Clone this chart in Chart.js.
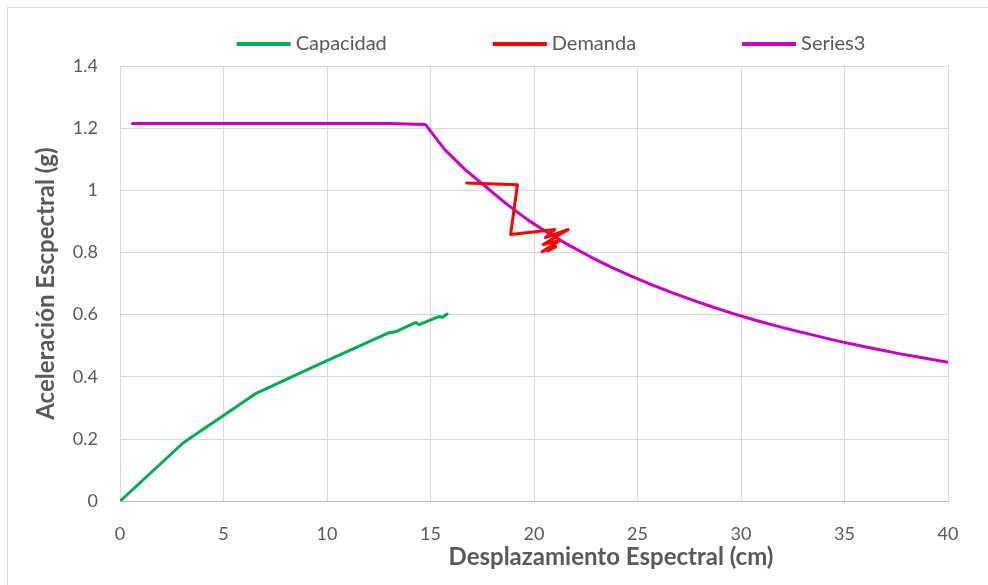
<!DOCTYPE html>
<html>
<head>
<meta charset="utf-8">
<script src="https://cdn.jsdelivr.net/npm/chart.js@4"></script>
<style>
  html, body { margin: 0; padding: 0; background: #fff; }
  #wrap { width: 988px; height: 585px; position: relative; }
</style>
</head>
<body>
<div id="wrap"><canvas id="chart"></canvas></div>
<script>
// Capacidad (pushover curve)
var capX = [0, 3.06, 6.6, 10, 13.0, 13.3, 14.3, 14.45, 15.4, 15.6, 15.8];
var capY = [0, 0.188, 0.348, 0.452, 0.542, 0.545, 0.575, 0.568, 0.594, 0.592, 0.602];

// Demanda
var demX = [16.75, 19.2, 18.87, 21.0, 20.55, 21.65, 20.45, 21.25, 20.4, 21.05, 20.7];
var demY = [1.024, 1.018, 0.858, 0.874, 0.848, 0.874, 0.826, 0.839, 0.803, 0.819, 0.806];

// Series3 (spectrum)
var s3X = [0.6, 13, 14.75, 15.7, 16.7, 17.7, 18.7, 19.7, 20.7, 21.7, 22.7, 23.7, 24.7, 25.7,
           26.7, 27.7, 28.7, 29.7, 30.7, 31.7, 32.7, 33.7, 34.7, 35.7, 36.7, 37.7, 38.7, 40];
var s3Y = [1.215, 1.215, 1.212, 1.13, 1.065, 1.01, 0.955, 0.905, 0.862, 0.823, 0.787, 0.754, 0.724, 0.696,
           0.670, 0.646, 0.623, 0.602, 0.582, 0.564, 0.547, 0.531, 0.515, 0.501, 0.487, 0.474, 0.462, 0.447];

var seriesNames = ['Capacidad', 'Demanda', 'Series3'];
var seriesColors = ['#00B050', '#FF0000', '#CC00CC'];

var xTitle = 'Desplazamiento Espectral (cm)';
var yTitle = 'Aceleración Escpectral (g)';

function toPoints(xs, ys) {
    return xs.map(function(x, i) { return {x: x, y: ys[i]}; });
}

var FONT = 'Lato, "Open Sans", sans-serif';
var GREY = '#595959';

// excel-ish legend (wide gaps between items), bottom title shift and outer frame
var tweaks = {
    id: 'tweaks',
    afterLayout: function(chart) {
        if (chart.titleBlock) { chart.titleBlock.left += 132; chart.titleBlock.right += 132; }
    },
    beforeDraw: function(chart) {
        var ctx = chart.ctx;
        ctx.save();
        ctx.strokeStyle = '#d9d9d9';
        ctx.lineWidth = 1;
        ctx.strokeRect(7.5, 7.5, chart.width + 20, chart.height + 20);
        ctx.restore();
    },
    afterDraw: function(chart) {
        var ctx = chart.ctx;
        var lineW = 54, gap = 5, itemGap = 106, cy = 44;
        ctx.save();
        ctx.font = '20px ' + FONT;
        var items = chart.data.datasets.map(function(ds) {
            return { text: ds.label, color: ds.borderColor, w: lineW + gap + ctx.measureText(ds.label).width };
        });
        var total = items.reduce(function(s, it) { return s + it.w; }, 0) + itemGap * (items.length - 1);
        var x = 551 - total / 2;
        items.forEach(function(it) {
            ctx.strokeStyle = it.color;
            ctx.lineWidth = 4;
            ctx.beginPath();
            ctx.moveTo(x, cy);
            ctx.lineTo(x + lineW, cy);
            ctx.stroke();
            ctx.fillStyle = GREY;
            ctx.textBaseline = 'middle';
            ctx.fillText(it.text, x + lineW + gap, cy);
            x += it.w + itemGap;
        });
        ctx.restore();
    }
};

var datasets = [capX, demX, s3X].map(function(xs, i) {
    var ys = [capY, demY, s3Y][i];
    return {
        label: seriesNames[i],
        data: toPoints(xs, ys),
        borderColor: seriesColors[i],
        backgroundColor: seriesColors[i],
        borderWidth: 3,
        borderJoinStyle: 'round',
        borderCapStyle: 'round',
        pointRadius: 0,
        showLine: true,
        fill: false,
        tension: 0
    };
});

new Chart(document.getElementById('chart'), {
    type: 'scatter',
    data: { datasets: datasets },
    plugins: [tweaks],
    options: {
        responsive: true,
        maintainAspectRatio: false,
        animation: false,
        layout: { padding: { top: 66, right: 40, bottom: 13, left: 10 } },
        plugins: {
            legend: { display: false },
            title: {
                display: true,
                position: 'bottom',
                text: xTitle,
                color: GREY,
                font: { family: FONT, size: 24, weight: 'bold' },
                padding: { top: 0, bottom: 0 }
            },
            tooltip: { enabled: false }
        },
        scales: {
            x: {
                type: 'linear',
                min: 0,
                max: 40,
                ticks: { stepSize: 5, color: GREY, padding: 22, font: { family: FONT, size: 18 } },
                grid: { color: '#d9d9d9', drawTicks: false },
                border: { color: '#bfbfbf' },
                afterFit: function(scale) { scale.height = 42; }
            },
            y: {
                type: 'linear',
                min: 0,
                max: 1.4,
                ticks: {
                    stepSize: 0.2, color: GREY, padding: 22, font: { family: FONT, size: 18 },
                    callback: function(v) { return String(Math.round(v * 10) / 10); }
                },
                grid: { color: '#d9d9d9', drawTicks: false },
                border: { color: '#d9d9d9' },
                title: {
                    display: true,
                    text: yTitle,
                    color: GREY,
                    font: { family: FONT, size: 24, weight: 'bold' },
                    padding: { top: 22, bottom: 0 }
                },
                afterFit: function(scale) { scale.width = 110; }
            }
        }
    }
});
</script>
</body>
</html>
